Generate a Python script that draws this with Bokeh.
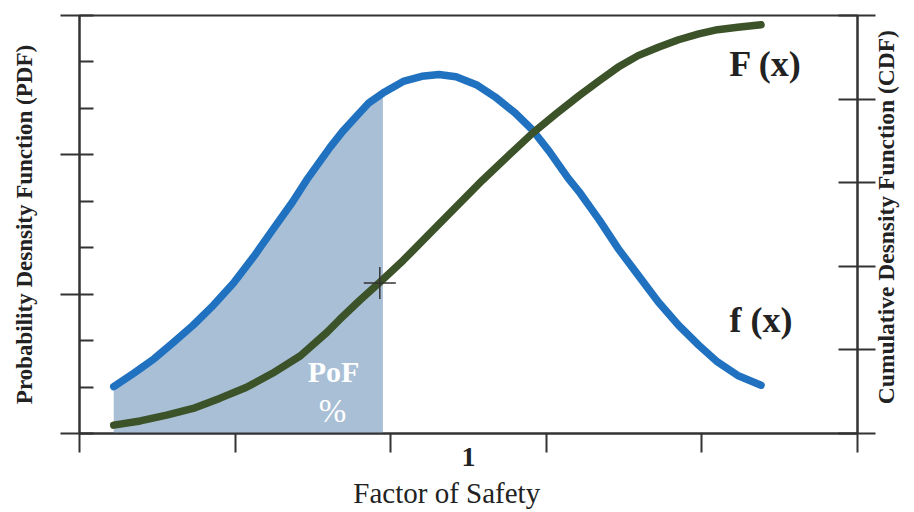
import math
from bokeh.plotting import figure
from bokeh.models import Range1d, LinearAxis, FixedTicker, Label
from bokeh.embed import file_html
from bokeh.resources import INLINE

# ---- data ----
# PDF f(x) (left axis units)
pdf_x = [0.22, 0.35, 0.48, 0.60, 0.73, 0.86, 0.99, 1.12, 1.24, 1.37, 1.46, 1.61,
         1.69, 1.78, 1.86, 1.95, 2.08, 2.20, 2.31, 2.42, 2.55, 2.67, 2.80, 2.91,
         3.02, 3.14, 3.21, 3.34, 3.46, 3.59, 3.72, 3.85, 3.98, 4.10, 4.23, 4.38]
pdf_y = [1.01, 1.30, 1.61, 1.95, 2.33, 2.76, 3.24, 3.81, 4.38, 4.99, 5.46, 6.16,
         6.50, 6.83, 7.12, 7.33, 7.58, 7.69, 7.73, 7.68, 7.51, 7.25, 6.90, 6.54,
         6.07, 5.50, 5.21, 4.60, 3.99, 3.41, 2.83, 2.33, 1.90, 1.54, 1.25, 1.04]
# CDF F(x) (right axis units)
cdf_x = [0.22, 0.39, 0.56, 0.73, 0.90, 1.07, 1.24, 1.42, 1.59, 1.67, 1.80, 1.93,
         2.08, 2.25, 2.42, 2.59, 2.76, 2.91, 3.06, 3.21, 3.34, 3.46, 3.59, 3.72,
         3.85, 3.98, 4.10, 4.23, 4.38]
cdf_y = [0.10, 0.15, 0.22, 0.30, 0.42, 0.55, 0.72, 0.93, 1.21, 1.36, 1.59, 1.81,
         2.07, 2.39, 2.71, 3.03, 3.33, 3.59, 3.82, 4.04, 4.22, 4.38, 4.52, 4.62,
         4.71, 4.78, 4.83, 4.86, 4.89]
# probability of failure region (under f(x), up to the FoS limit)
pof_x = [0.22, 0.35, 0.48, 0.60, 0.73, 0.86, 0.99, 1.12, 1.24, 1.37, 1.46, 1.61,
         1.69, 1.78, 1.86, 1.95]
pof_y = [1.01, 1.30, 1.61, 1.95, 2.33, 2.76, 3.24, 3.81, 4.38, 4.99, 5.46, 6.16,
         6.50, 6.83, 7.12, 7.33]
# marked point on F(x)
mark_x = [1.93]
mark_y = [1.80]

left_major = [0, 3, 6, 9]
left_minor = [1, 2, 4, 5, 7, 8]
right_ticks = [0, 1, 2, 3, 4, 5]
x_ticks = [0, 1, 2, 3, 4, 5]
x_label_pos = 2.5
x_label_text = "1"

BLUE = "#2072c0"
GREEN = "#3c5229"
FILL = "#a8bfd6"
AX = "#333333"
TXT = "#222222"
SERIF = "Liberation Serif"

p = figure(width=914, height=512, x_range=Range1d(0, 5), y_range=Range1d(0, 9),
           output_backend="svg", toolbar_location=None,
           min_border_left=79, min_border_right=53, min_border_top=15, min_border_bottom=79)
p.grid.visible = False
p.outline_line_color = AX
p.outline_line_width = 2
p.background_fill_color = "white"
p.border_fill_color = "white"
p.extra_y_ranges = {"cdf": Range1d(0, 5)}

# left axis
ya = p.yaxis[0]
ya.ticker = FixedTicker(ticks=left_major, minor_ticks=left_minor)
ya.major_tick_in = 14
ya.major_tick_out = 19
ya.minor_tick_in = 14
ya.minor_tick_out = 0
ya.major_label_overrides = {t: "" for t in left_major}
ya.major_label_standoff = 0
ya.axis_label = "Probability Desnsity Function (PDF)"
ya.axis_label_text_font = SERIF
ya.axis_label_text_font_style = "bold"
ya.axis_label_text_font_size = "23px"
ya.axis_label_text_color = TXT
ya.axis_label_standoff = 24

# right axis
ra = LinearAxis(y_range_name="cdf", ticker=FixedTicker(ticks=right_ticks))
ra.major_tick_in = 19
ra.major_tick_out = 18
ra.minor_tick_in = 0
ra.minor_tick_out = 0
ra.major_label_overrides = {t: "" for t in right_ticks}
ra.major_label_standoff = 0
ra.axis_label = "\u00a0" * 5 + "Cumulative Desnsity Function (CDF)"
ra.axis_label_text_font = SERIF
ra.axis_label_text_font_style = "bold"
ra.axis_label_text_font_size = "23.5px"
ra.axis_label_text_color = TXT
ra.axis_label_standoff = 10
ra.axis_label_orientation = math.pi / 2
if "axis_label_align" in ra.properties():
    ra.axis_label_align = "start"
p.add_layout(ra, "right")

# bottom axis
xa = p.xaxis[0]
xa.ticker = FixedTicker(ticks=[x_label_pos], minor_ticks=x_ticks)
xa.major_tick_in = 0
xa.major_tick_out = 0
xa.minor_tick_in = 0
xa.minor_tick_out = 19
xa.major_label_overrides = {x_label_pos: x_label_text}
xa.major_label_text_font = SERIF
xa.major_label_text_font_style = "bold"
xa.major_label_text_font_size = "28px"
xa.major_label_text_color = TXT
xa.major_label_standoff = -5
xa.axis_label = "Factor of Safety" + "\u00a0" * 6
xa.axis_label_text_font = SERIF
xa.axis_label_text_font_style = "normal"
xa.axis_label_text_font_size = "29px"
xa.axis_label_text_color = TXT
xa.axis_label_standoff = 8

for ax in (ya, ra, xa):
    ax.axis_line_color = AX
    ax.axis_line_width = 2
    ax.major_tick_line_color = AX
    ax.major_tick_line_width = 2
    ax.minor_tick_line_color = AX
    ax.minor_tick_line_width = 2

# shaded PoF
p.varea(x=pof_x, y1=0, y2=pof_y, fill_color=FILL, fill_alpha=1.0)
# curves
p.line(pdf_x, pdf_y, line_color=BLUE, line_width=7.5, line_cap="round", line_join="round")
p.line(cdf_x, cdf_y, line_color=GREEN, line_width=7.5, line_cap="round", line_join="round",
       y_range_name="cdf")
p.scatter(mark_x, mark_y, marker="cross", size=32, line_color=AX, line_width=1.5,
          y_range_name="cdf")

def lab(x, y, text, size, bold=True, color=TXT):
    p.add_layout(Label(x=x, y=y, text=text, text_font=SERIF, text_font_size=size,
                       text_font_style="bold" if bold else "normal", text_color=color,
                       text_align="center", text_baseline="alphabetic"))

lab(4.41, 7.95, "F (x)", "36px")
lab(4.38, 2.45, "f (x)", "36px")
lab(1.633, 1.34, "PoF", "30px", color="white")
lab(1.626, 0.48, "%", "33px", bold=False, color="white")

open("out.html", "w").write(file_html(p, INLINE))
